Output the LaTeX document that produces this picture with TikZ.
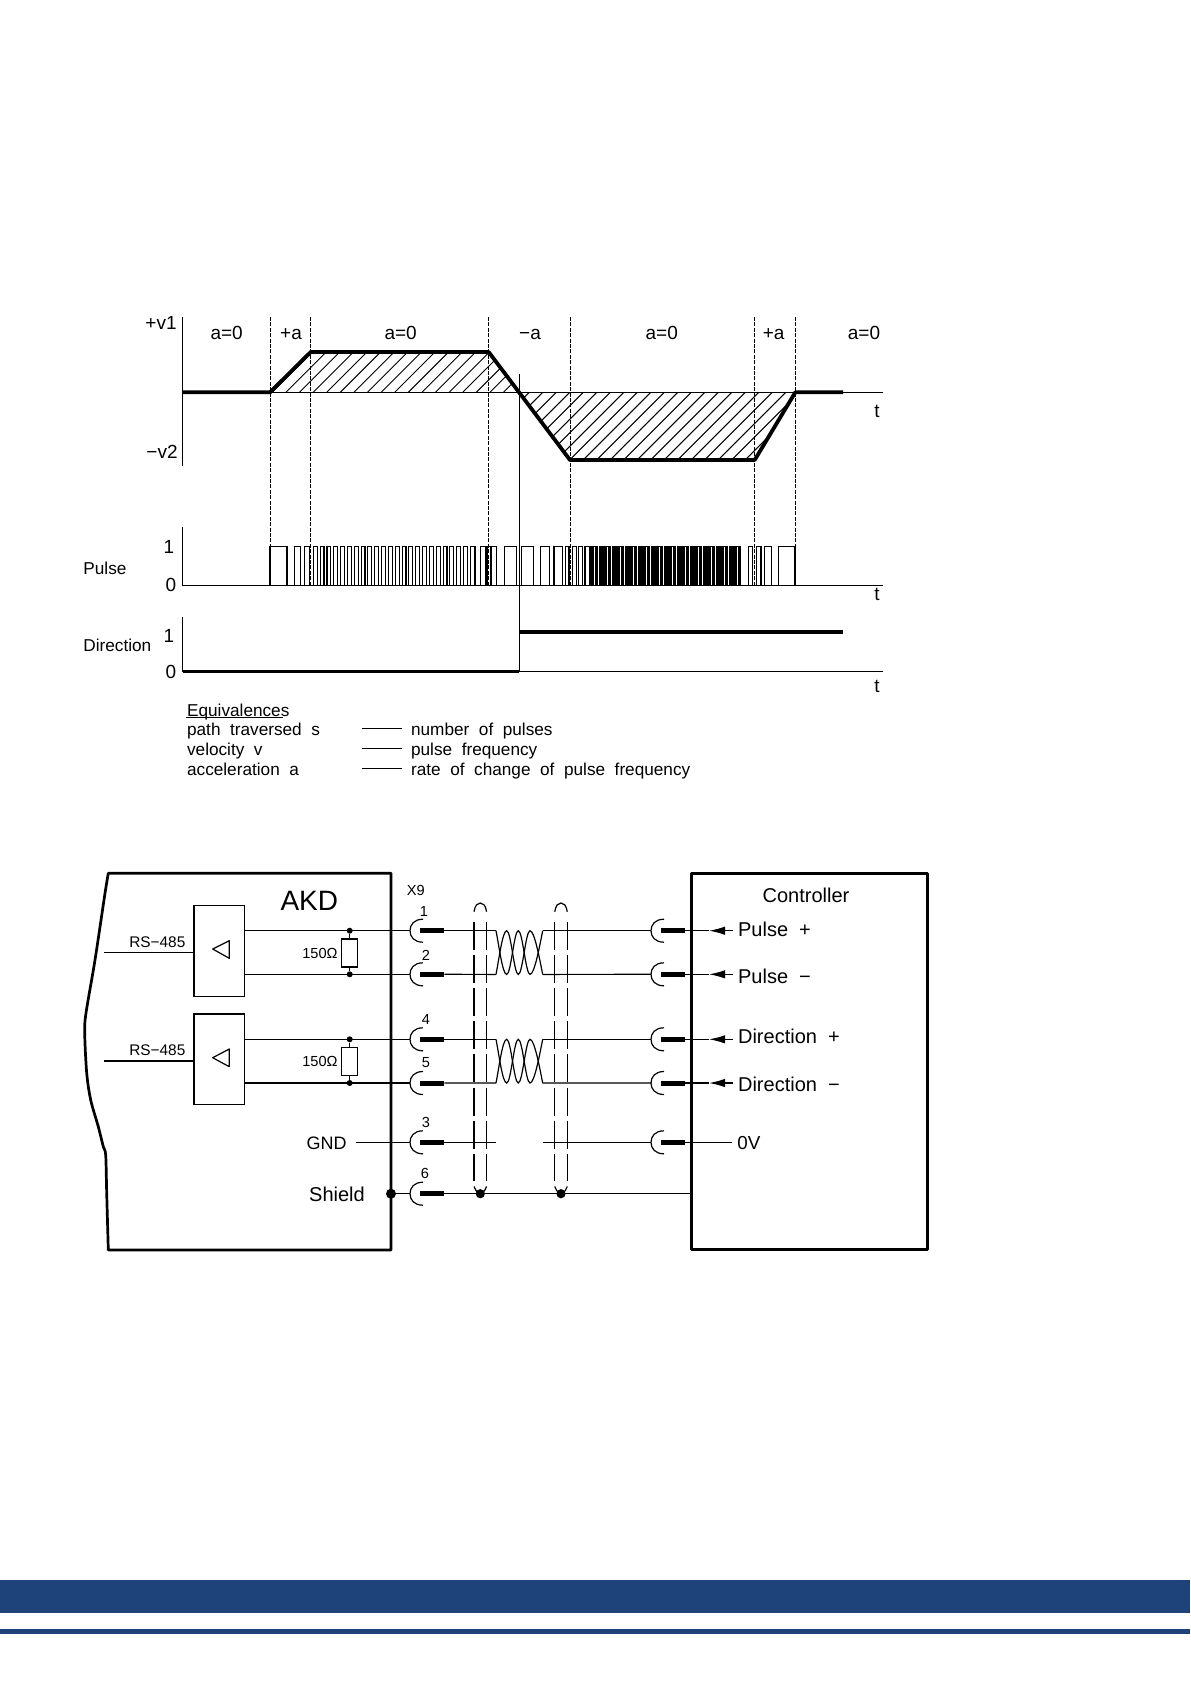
\documentclass[tikz,border=0pt]{standalone}
\usepackage{fontspec}
\setmainfont[WordSpace=2]{Liberation Sans}
\usetikzlibrary{arrows.meta,positioning,calc}
\definecolor{bandblue}{HTML}{1E437A}
\newcommand{\sizeS}{\fontsize{7.3}{9}\selectfont}
\newcommand{\sizeM}{\fontsize{8.6}{10}\selectfont}
\newcommand{\sizeP}{\fontsize{9.5}{11}\selectfont}
\newcommand{\sizeL}{\fontsize{10}{12}\selectfont}

\begin{document}
\begin{tikzpicture}[x=0.5pt,y=-0.5pt] % one unit is one pixel of the page, y runs downwards
\tikzset{lbl/.style={inner sep=0pt,text height=6pt,text depth=0pt,font=\sizeM}} % all small texts
\tikzset{lblS/.style={lbl,text height=5pt,font=\sizeS}}
\tikzset{lblP/.style={lbl,text height=6.6pt,font=\sizeP}}
\tikzset{lblL/.style={lbl,text height=7pt,font=\sizeL}}
\tikzset{wire/.style={line width=0.6pt},hatchline/.style={line width=0.45pt}}
\tikzset{wave/.style={line width=1.9pt,line join=round},phaseline/.style={line width=0.5pt,dash pattern=on 2pt off 0.7pt}}
\tikzset{pulseline/.style={line width=0.55pt},boxline/.style={line width=1.35pt,line join=round}}
\tikzset{jun/.style={circle,fill=black,inner sep=0pt,minimum size=3pt}}
\tikzset{drvbox/.style={draw,line width=0.6pt,rectangle,minimum width=25.3pt,minimum height=45.3pt}}
\tikzset{resbox/.style={draw,line width=0.6pt,rectangle,minimum width=8pt,minimum height=14pt}}
\tikzset{plug/.pic={ % socket arc with its thick pin
  \draw[wire] (13,-11.5) .. controls (4,-11.5) and (0,-6) .. (0,0) .. controls (0,6) and (4,11.5) .. (13,11.5);
  \draw[line width=2.5pt] (10,0) -- (34.3,0);
  \coordinate (-in) at (0,0); \coordinate (-out) at (34.3,0);}}
\tikzset{twist/.pic={ % twisted pair between two rows
  \draw[wire] (0,0) .. controls (3,15) and (6.5,43.7) .. (10.7,43.7) .. controls (15,43.7) and (18,0) .. (22.3,0) .. controls (26.6,0) and (29.7,43.7) .. (34,43.7) .. controls (38.5,43.7) and (43.7,15) .. (46.7,0);
  \draw[wire] (0,43.7) .. controls (3,28.7) and (6.5,0) .. (10.7,0) .. controls (15,0) and (18,43.7) .. (22.3,43.7) .. controls (26.6,43.7) and (29.7,0) .. (34,0) .. controls (38.5,0) and (43.7,28.7) .. (46.7,43.7);
  \coordinate (-nw) at (0,0); \coordinate (-ne) at (46.7,0); \coordinate (-sw) at (0,43.7); \coordinate (-se) at (46.7,43.7);}}
\tikzset{shieldcan/.pic={ % cable screen, drawn from the top of its cap
  \draw[wire] (-6.3,8.7) .. controls (-5,2) and (-3,0) .. (0,0) .. controls (3,0) and (5,2) .. (6.3,8.7);
  \draw[wire,dash pattern=on 14pt off 2.6pt] (-6.3,18.5) -- (-6.3,278);
  \draw[wire,dash pattern=on 14pt off 2.6pt] (6.3,18.5) -- (6.3,278);
  \draw[wire] (-6.3,283.5) .. controls (-6,287) and (-3,289) .. (0,290.7) .. controls (3,289) and (6,287) .. (6.3,283.5);
  \node[jun,minimum size=4.6pt] at (0,290.7) {};}}
\path[use as bounding box] (0,0) rectangle (1190,1683);

% hatching of the two areas
\begin{scope}
\clip (270,392.3) -- (310.7,352) -- (488.7,352) -- (518.9,392.3) -- cycle;
\foreach \hx in {272.3,285.9,...,530} \draw[hatchline] (\hx-100,492.3) -- (\hx+100,292.3);
\end{scope}
\begin{scope}
\clip (518.9,392.3) -- (570,460) -- (754.7,460) -- (795.3,392.3) -- cycle;
\foreach \hx in {502.3,515.8,...,900} \draw[hatchline] (\hx-100,492.3) -- (\hx+100,292.3);
\end{scope}

% velocity plot
\coordinate (velTop) at (182.5,317); \coordinate (velBot) at (182.5,466);
\coordinate (velEnd) at (882.7,392.3);
\draw[wire] (velTop) -- (velBot);
\draw[pulseline] (velTop |- velEnd) -- (velEnd);
\draw[wave] (182.5,392.3) -- (270,392.3) -- (310.7,352) -- (488.7,352) -- (570,460) -- (754.7,460) -- (795.3,392.3) -- (843,392.3);
\foreach \px in {270,310.7,488.7,570,754.7,795.3} \draw[phaseline] (\px,317) -- (\px,585.3);
\draw[pulseline] (519.3,374) -- (519.3,671.5);

% pulse train
\coordinate (pulTop) at (182.5,527); \coordinate (pulBot) at (182.5,585.3);
\coordinate (pulEnd) at (882.7,585.3);
\draw[wire] (pulTop) -- (pulBot) -- (pulEnd);
\foreach \ra/\fa in {270/287,294.3/300.7,304.3/309.7,470.4/475,480.7/486,487.7/491,491.7/496.7,504.3/516.7,521.7/533.3,540.7/549.3,554/562.7,565.7/569,572.7/576.7,578.3/582.3,585/590,748.3/752.3,756.7/761,764.7/771.7,778.3/795}
  \draw[pulseline] (\ra,585.3) |- (\fa,546.3) -- (\fa,585.3);
\foreach \k in {0,...,22} {
  \pgfmathsetmacro\ra{313.3+6.83*\k}
  \draw[pulseline] (\ra,585.3) |- (\ra+3.9,546.3) -- (\ra+3.9,585.3);
}
\foreach \ra in {591.3,593.9,...,741} \draw[pulseline] (\ra,585.3) |- (\ra+1.3,546.3) -- (\ra+1.3,585.3);

% direction signal
\coordinate (dirTop) at (182.5,617); \coordinate (dirBot) at (182.5,671.5);
\coordinate (dirEnd) at (882.7,671.5);
\draw[wire] (dirTop) -- (dirBot);
\draw[pulseline] (519.3,671.5) -- (dirEnd);
\draw[line width=1.9pt] (dirBot) -- (519.3,671.5);
\draw[line width=1.9pt] (519.3,632) -- (843,632);

% texts of the plots
\foreach \sid/\sx/\stxt in {a/226.7/a=0,b/291/+a,c/400.7/a=0,d/530/−a,e/661.7/a=0,f/773.7/+a,g/864/a=0}
  \node[lblP] (seg\sid) at (\sx,333) {\stxt};
\node[lblP,anchor=east] (vOne) at (177,323) {+v1};
\node[lblP,anchor=east] (vTwo) at (178,452) {−v2};
\foreach \tid/\ty in {a/410.7,b/594,c/686} \node[lblP] (time\tid) at (877,\ty) {t};
\node[lblP] (pulOne) at (169,547) {1};
\node[lblP] (pulZero) at (171,585) {0};
\node[lbl,anchor=west] (pulName) at (83,568) {Pulse};
\node[lblP] (dirOne) at (169,636) {1};
\node[lblP] (dirZero) at (171,672) {0};
\node[lbl,anchor=west] (dirName) at (83,645) {Direction};

% equivalences
\node[lbl,anchor=west] (eqHead) at (186.7,710) {Equivalences};
\draw[pulseline] (186.4,717.3) -- (282.7,717.3);
\foreach \eid/\ey/\el/\er in {s/729/path traversed s/number of pulses,v/749/velocity v/pulse frequency,a/769/acceleration a/rate of change of pulse frequency} {
  \node[lbl,anchor=west] (eqL\eid) at (186.7,\ey) {\el};
  \node[lbl,anchor=west] (eqR\eid) at (410.7,\ey) {\er};
  \draw[wire] (361.7,\ey-0.7) -- (401.7,\ey-0.7);
}

% AKD housing and controller
\draw[boxline] plot[smooth,tension=0.5] coordinates {(108.3,873.3) (105,893.3) (95,960) (86,1013) (84.7,1033) (86.7,1073) (90.7,1100) (98.3,1126.7) (103.3,1146.7) (105.7,1155) (106.7,1193) (108.3,1250)} -- (391,1250) -- (391,873.3) -- cycle;
\node[draw,boxline,rectangle,minimum width=118pt,minimum height=188pt,inner sep=0pt] (ctrlbox) at (809.7,1061.3) {};
\node[lbl,text height=10pt,font=\fontsize{14}{16}\selectfont] (akdName) at (309.3,900.7) {AKD};
\node[lblL] (ctrlName) at (806,895) {Controller};

% plugs on both sides
\foreach \pin/\rowy in {1/930.7,2/974.3,4/1039.3,5/1083,3/1142.3,6/1193.7}
  \pic (plugA\pin) at (410,\rowy) {plug};
\foreach \pin/\rowy in {1/930.7,2/974.3,4/1039.3,5/1083,3/1142.3}
  \pic (plugB\pin) at (651,\rowy) {plug};
\node[lblS] (xNine) at (415.7,890.7) {X9};
\foreach \pin/\nx/\ny in {1/424/911.7,2/426/955,4/426/1019.3,5/426/1062.7,3/426/1122.3,6/425/1173.7}
  \node[lblS] (pinNo\pin) at (\nx,\ny) {\pin};

% the two receivers
\node[drvbox] (drvA) at (219.35,951) {};
\node[drvbox] (drvB) at (219.35,1059.3) {};
\draw[wire,line join=round] (212.7,949) -- (229.3,940.7) -- (229.3,958.3) -- cycle;
\draw[wire,line join=round] (212.7,1057.7) -- (229.3,1049) -- (229.3,1066.7) -- cycle;
\coordinate (rsA) at (104,952.7); \coordinate (rsB) at (104,1061);
\draw[wire] (rsA) -- (rsA -| drvA.west);
\draw[wire] (rsB) -- (rsB -| drvB.west);
\node[lblS,font=\fontsize{7.7}{9}\selectfont] (rsAName) at (157.3,942.3) {RS−485};
\node[lblS,font=\fontsize{7.7}{9}\selectfont] (rsBName) at (157.3,1050.7) {RS−485};
\draw[wire] (drvA.east |- plugA1-in) -- (plugA1-in);
\draw[wire] (drvA.east |- plugA2-in) -- (plugA2-in);
\draw[wire] (drvB.east |- plugA4-in) -- (plugA4-in);
\draw[wire] (drvB.east |- plugA5-in) -- (plugA5-in);

% terminating resistors
\node[jun] (junA) at (349.7,930.7) {};
\node[jun] (junB) at (349.7,974.3) {};
\node[jun] (junC) at (349.7,1039.3) {};
\node[jun] (junD) at (349.7,1083) {};
\node[resbox] (resA) at (349.7,953) {};
\node[resbox] (resB) at (349.7,1061.2) {};
\draw[wire] (junA) -- (resA) -- (junB);
\draw[wire] (junC) -- (resB) -- (junD);
\node[lblS] (resAName) at (320,953.3) {150Ω};
\node[lblS] (resBName) at (320,1061.7) {150Ω};

% cable
\pic (twistA) at (496,930.7) {twist};
\pic (twistB) at (496,1039.3) {twist};
\draw[wire] (plugA1-out) -- (twistA-nw);
\draw[wire] (plugA2-out) -- (twistA-sw);
\draw[wire] (plugA4-out) -- (twistB-nw);
\draw[wire] (plugA5-out) -- (twistB-sw);
\draw[wire] (twistA-ne) -- (plugB1-in);
\draw[wire] (twistA-se) -- (plugB2-in);
\draw[wire] (twistB-ne) -- (plugB4-in);
\draw[wire] (twistB-se) -- (plugB5-in);
\coordinate (gapL) at (496,1142.3); \coordinate (gapR) at (542.7,1142.3);
\draw[wire] (plugA3-out) -- (gapL);
\draw[wire] (gapR) -- (plugB3-in);
\pic (shieldA) at (480.3,903) {shieldcan};
\pic (shieldB) at (561,903) {shieldcan};

% GND and shield rows
\coordinate (gndStart) at (356,1142.3);
\draw[wire] (gndStart) -- (plugA3-in);
\node[lbl,font=\fontsize{9}{11}\selectfont] (gndName) at (326.7,1143) {GND};
\node[lblL] (shieldName) at (337,1194) {Shield};
\node[jun,minimum size=5pt] (shieldDot) at (391,1193.7) {};
\draw[wire] (shieldDot) -- (plugA6-in);
\draw[wire] (plugA6-out) -- (ctrlbox.west |- plugA6-out);

% controller inputs
\foreach \pin/\lbly/\ltxt in {1/929.3/Pulse +,2/976/Pulse −,4/1036.7/Direction +,5/1084/Direction −} {
  \coordinate (tip\pin) at (plugB\pin-out -| 709,0);
  \coordinate (stub\pin) at (plugB\pin-out -| 733,0);
  \draw[wire] (plugB\pin-out) -- (tip\pin);
  \draw[wire,-{Latex[length=8pt,width=4.2pt]}] (stub\pin) -- (tip\pin);
  \node[lblL,anchor=west] (ctrlIn\pin) at (737.7,\lbly) {\ltxt};
}
\coordinate (zeroEnd) at (731.7,1142.3);
\draw[wire] (plugB3-out) -- (zeroEnd);
\node[lbl,font=\fontsize{9.4}{11}\selectfont,anchor=west] (zeroName) at (737,1143.3) {0V};

% footer bands
\fill[bandblue] (0,1580) rectangle (1190,1612.7);
\fill[bandblue] (0,1629) rectangle (1190,1633.7);
\end{tikzpicture}
\end{document}
